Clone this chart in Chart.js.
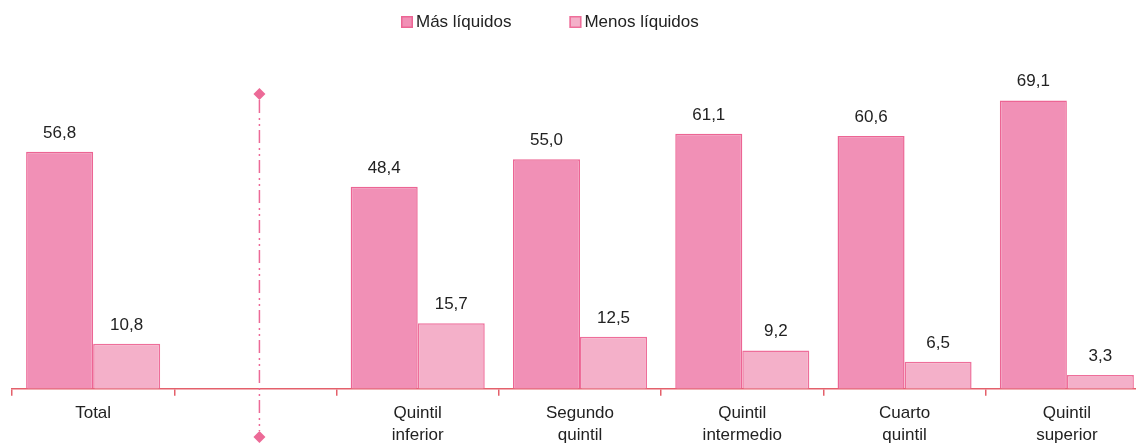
<!DOCTYPE html>
<html>
<head>
<meta charset="utf-8">
<script src="https://cdn.jsdelivr.net/npm/chart.js@4"></script>
<style>
    body { margin: 0; background: #fff; overflow: hidden; }
    #wrap { width: 1150px; height: 460px; }
</style>
</head>
<body>
<div id="wrap"><canvas id="grafico" width="1150" height="460"></canvas></div>
<script>
const categorie = ['Total', '', ['Quintil', 'inferior'], ['Segundo', 'quintil'], ['Quintil', 'intermedio'], ['Cuarto', 'quintil'], ['Quintil', 'superior']]
const masLiquidos = [56.8, null, 48.4, 55.0, 61.1, 60.6, 69.1]
const menosLiquidos = [10.8, null, 15.7, 12.5, 9.2, 6.5, 3.3]
const etichette = ['Más líquidos', 'Menos líquidos']

const font = '"Liberation Sans", Arial, sans-serif'
const rosa = '#ec6a97'

// valori sopra le barre
const valori = {
    id: 'valori',
    afterDatasetsDraw(chart) {
        const ctx = chart.ctx
        ctx.save()
        ctx.font = '17px ' + font
        ctx.fillStyle = '#222'
        ctx.textAlign = 'center'
        ctx.textBaseline = 'alphabetic'
        chart.data.datasets.forEach((ds, i) => {
            chart.getDatasetMeta(i).data.forEach((bar, j) => {
                if (ds.data[j] == null) return
                ctx.fillText(ds.data[j].toFixed(1).replace('.', ','), bar.x, bar.y - 14)
            })
        })
        ctx.restore()
    }
}

// linea di separazione tratto-punto
const separatore = {
    id: 'separatore',
    afterDraw(chart) {
        const ctx = chart.ctx
        const x = chart.scales.x.getPixelForValue(1) + 4
        const y1 = 94, y2 = 437
        ctx.save()
        ctx.strokeStyle = rosa
        ctx.fillStyle = rosa
        ctx.lineWidth = 1.5
        ctx.setLineDash([13, 5, 2, 4, 2, 4])
        ctx.beginPath()
        ctx.moveTo(x, y1 + 6)
        ctx.lineTo(x, y2 - 6)
        ctx.stroke()
        ctx.setLineDash([])
        for (let y of [y1, y2]) {
            ctx.beginPath()
            ctx.moveTo(x, y - 6)
            ctx.lineTo(x + 6, y)
            ctx.lineTo(x, y + 6)
            ctx.lineTo(x - 6, y)
            ctx.closePath()
            ctx.fill()
        }
        ctx.restore()
    }
}

// legenda disegnata a mano
const legenda = {
    id: 'legenda',
    afterDraw(chart) {
        const ctx = chart.ctx
        ctx.save()
        ctx.font = '17px ' + font
        ctx.textBaseline = 'middle'
        let x = 401
        const y = 22
        chart.data.datasets.forEach(ds => {
            ctx.fillStyle = ds.backgroundColor
            ctx.strokeStyle = ds.borderColor
            ctx.lineWidth = 1.5
            ctx.fillRect(x, y - 6, 12, 12)
            ctx.strokeRect(x + 0.75, y - 5.25, 10.5, 10.5)
            ctx.fillStyle = '#222'
            ctx.fillText(ds.label, x + 15, y)
            x += 15 + ctx.measureText(ds.label).width + 58
        })
        ctx.restore()
    }
}

new Chart(
    document.getElementById('grafico'),
    {
        type: 'bar',
        data: {
            labels: categorie,
            datasets: [
                {
                    label: etichette[0],
                    data: masLiquidos,
                    backgroundColor: '#f190b6',
                    borderColor: '#ec6594',
                    borderWidth: 1.5,
                },
                {
                    label: etichette[1],
                    data: menosLiquidos,
                    backgroundColor: '#f4b0c9',
                    borderColor: '#ee6e9a',
                    borderWidth: 1.5,
                },
            ]
        },
        options: {
            responsive: false,
            animation: false,
            devicePixelRatio: 1,
            layout: {
                padding: { top: 55, left: 12, right: 2, bottom: 7 }
            },
            datasets: {
                bar: { barPercentage: 1, categoryPercentage: 0.826 }
            },
            plugins: {
                legend: { display: false },
                tooltip: { enabled: false }
            },
            scales: {
                x: {
                    grid: {
                        drawOnChartArea: false,
                        tickLength: 7,
                        color: '#e4606b',
                        lineWidth: 1.5
                    },
                    border: { color: '#e4606b', width: 1.5 },
                    ticks: {
                        color: '#222',
                        padding: 6,
                        maxRotation: 0,
                        autoSkip: false,
                        font: { family: font, size: 17, lineHeight: 1.33 }
                    }
                },
                y: {
                    display: false,
                    min: 0,
                    max: 80
                }
            }
        },
        plugins: [valori, separatore, legenda]
    }
)
</script>
</body>
</html>
